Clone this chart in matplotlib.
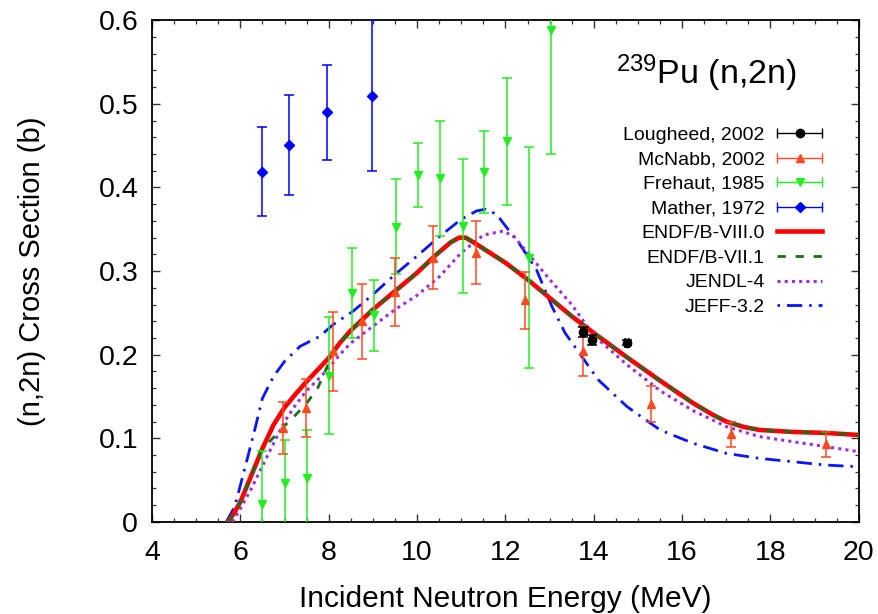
import matplotlib
matplotlib.use("Agg")
import matplotlib.pyplot as plt
from matplotlib.lines import Line2D
from matplotlib.legend_handler import HandlerBase
from matplotlib.ticker import MultipleLocator

plt.rcParams['font.family'] = ['Liberation Sans', 'DejaVu Sans']
plt.rcParams['mathtext.fontset'] = 'custom'
plt.rcParams['mathtext.rm'] = 'Liberation Sans'
plt.rcParams['mathtext.default'] = 'regular'
plt.rcParams['lines.scale_dashes'] = False

# ---------------- data ----------------
loug_E = [13.75, 13.95, 14.75]
loug_s = [0.227, 0.218, 0.214]
loug_err = [0.006, 0.006, 0.003]
loug_xerr = [0.04, 0.04, 0.04]

mcn_E = [6.96, 7.49, 8.1, 8.75, 9.5, 10.36, 11.33, 12.45, 13.76, 15.3, 17.1, 19.25]
mcn_s = [0.112, 0.136, 0.204, 0.240, 0.275, 0.316, 0.322, 0.265, 0.204, 0.141, 0.105, 0.093]
mcn_err = [0.031, 0.035, 0.047, 0.045, 0.041, 0.038, 0.038, 0.034, 0.030, 0.021, 0.015, 0.015]

fre_E = [6.48, 7.0, 7.5, 8.0, 8.53, 9.02, 9.52, 10.03, 10.52, 11.03, 11.52, 12.03, 12.53, 13.04]
fre_s = [0.022, 0.046, 0.052, 0.175, 0.274, 0.247, 0.353, 0.415, 0.411, 0.354, 0.418, 0.455, 0.316, 0.588]
fre_err = [0.063, 0.052, 0.058, 0.070, 0.054, 0.042, 0.057, 0.038, 0.069, 0.080, 0.049, 0.076, 0.132, 0.148]

mat_E = [6.49, 7.09, 7.97, 8.98]
mat_s = [0.419, 0.451, 0.490, 0.510]
mat_err = [0.053, 0.060, 0.057, 0.090]

b8_E = [5.72, 5.85, 6.0, 6.25, 6.5, 6.75, 7.0, 7.25, 7.5, 7.75, 8.0, 8.25, 8.5, 9.0, 9.5,
        10.0, 10.4, 10.75, 10.95, 11.1, 11.35, 12.0, 12.5, 13.0, 13.5, 14.0, 14.75, 15.5,
        16.25, 16.7, 17.0, 17.4, 17.75, 18.5, 19.25, 20.0]
b8_s = [0.0, 0.010, 0.024, 0.056, 0.088, 0.116, 0.137, 0.153, 0.168, 0.182, 0.196, 0.214,
        0.229, 0.254, 0.276, 0.298, 0.318, 0.334, 0.340, 0.340, 0.332, 0.310, 0.290, 0.268,
        0.246, 0.226, 0.197, 0.169, 0.142, 0.128, 0.120, 0.1135, 0.110, 0.1076, 0.1064, 0.104]

b71_E = [5.72, 5.85, 6.0, 6.25, 6.5, 6.75, 7.0, 7.25, 7.5, 7.75, 8.0, 8.15, 8.5, 9.0, 9.5,
         10.0, 10.4, 10.75, 10.95, 11.1, 11.35, 12.0, 12.5, 13.0, 13.5, 14.0, 14.75, 15.5,
         16.25, 16.7, 17.0, 17.4, 17.75, 18.5, 19.25, 20.0]
b71_s = [0.0, 0.010, 0.024, 0.056, 0.087, 0.101, 0.115, 0.128, 0.142, 0.160, 0.190, 0.208,
         0.229, 0.254, 0.276, 0.298, 0.318, 0.334, 0.340, 0.340, 0.332, 0.310, 0.290, 0.268,
         0.246, 0.226, 0.197, 0.169, 0.142, 0.128, 0.120, 0.1135, 0.110, 0.1076, 0.1064, 0.104]

jendl_E = [5.82, 6.0, 6.25, 6.5, 6.75, 7.0, 7.25, 7.5, 7.75, 8.0, 8.25, 8.5, 9.0, 9.5, 10.0,
           10.5, 11.0, 11.5, 11.95, 12.2, 12.5, 13.0, 13.5, 14.0, 14.75, 15.5, 16.25, 17.0,
           17.75, 18.5, 19.25, 20.0]
jendl_s = [0.0, 0.016, 0.040, 0.067, 0.094, 0.120, 0.140, 0.157, 0.170, 0.184, 0.200, 0.214,
           0.234, 0.254, 0.271, 0.293, 0.322, 0.343, 0.348, 0.341, 0.322, 0.290, 0.260, 0.223,
           0.188, 0.157, 0.133, 0.114, 0.102, 0.096, 0.090, 0.084]

jeff_E = [5.68, 5.87, 6.05, 6.3, 6.5, 6.75, 7.0, 7.35, 7.8, 8.1, 8.55, 9.0, 9.5, 10.0, 10.5,
          11.0, 11.35, 11.55, 11.8, 12.0, 12.3, 12.7, 13.05, 13.35, 13.7, 14.1, 14.75, 15.5,
          16.25, 17.0, 17.75, 18.5, 19.25, 20.0]
jeff_s = [0.0, 0.018, 0.054, 0.105, 0.148, 0.174, 0.192, 0.210, 0.222, 0.236, 0.252, 0.272,
          0.296, 0.318, 0.341, 0.362, 0.372, 0.374, 0.368, 0.354, 0.334, 0.302, 0.258, 0.226,
          0.200, 0.170, 0.138, 0.110, 0.094, 0.082, 0.076, 0.072, 0.068, 0.066]

labels = ["Lougheed, 2002", "McNabb, 2002", "Frehaut, 1985", "Mather, 1972",
          "ENDF/B-VIII.0", "ENDF/B-VII.1", "JENDL-4", "JEFF-3.2"]

# ---------------- figure ----------------
fig = plt.figure(figsize=(8.79, 6.14), dpi=100)
ax = fig.add_axes([0.173, 0.150, 0.804, 0.817])

c_loug = 'black'
c_mcn = '#ff4a1f'
c_fre = '#22ee22'
c_mat = '#0000ff'

ax.plot(jeff_E, jeff_s, color='#0a14ff', lw=2.0, dashes=(11, 5, 1.8, 5), zorder=3)
ax.plot(jendl_E, jendl_s, color='#9a2ee0', lw=2.2, dashes=(2.2, 3.0), zorder=3)
ax.plot(b8_E, b8_s, color='#ff0000', lw=3.3, zorder=4)
ax.plot(b71_E, b71_s, color='#1a6e1a', lw=2.0, dashes=(6, 7), zorder=5)

eb_kw = dict(ls='none', capsize=3.5, elinewidth=1.1, capthick=1.1, zorder=6)
ax.errorbar(mat_E, mat_s, yerr=mat_err, color=c_mat, marker='D', ms=5.5, **eb_kw)
ax.errorbar(fre_E, fre_s, yerr=fre_err, color=c_fre, marker='v', ms=6, **eb_kw)
ax.errorbar(mcn_E, mcn_s, yerr=mcn_err, color=c_mcn, marker='^', ms=6, **eb_kw)
ax.errorbar(loug_E, loug_s, yerr=loug_err, xerr=loug_xerr, color=c_loug, marker='o', ms=6, **eb_kw)

ax.set_xlim(4, 20)
ax.set_ylim(0, 0.6)
ax.xaxis.set_major_locator(MultipleLocator(2))
ax.xaxis.set_minor_locator(MultipleLocator(0.5))
ax.yaxis.set_minor_locator(MultipleLocator(0.02))
ax.set_yticks([0, 0.1, 0.2, 0.3, 0.4, 0.5, 0.6])
ax.set_yticklabels(['0', '0.1', '0.2', '0.3', '0.4', '0.5', '0.6'])
ax.tick_params(which='both', direction='in', top=True, right=True, color='#333333')
ax.tick_params(which='major', length=6, width=1.0, labelsize=20.5)
ax.tick_params(which='minor', length=3, width=0.9)
ax.tick_params(axis='x', which='major', pad=13)
ax.tick_params(axis='y', which='major', pad=10)
for sp in ax.spines.values():
    sp.set_linewidth(1.3)

ax.set_xlabel("Incident Neutron Energy (MeV)", fontsize=21.5, labelpad=14)
ax.set_ylabel("(n,2n) Cross Section (b)", fontsize=21, labelpad=38)

ax.text(0.785, 0.894, r"$^{239}$Pu (n,2n)", transform=ax.transAxes,
        fontsize=24.5, ha='center', va='center')

# ---------------- legend ----------------
class ErrProxy:
    def __init__(self, color, marker, ms):
        self.color = color
        self.marker = marker
        self.ms = ms

class HandlerErr(HandlerBase):
    def create_artists(self, legend, orig_handle, xdescent, ydescent, width, height,
                       fontsize, trans):
        y = height / 2.0 - ydescent
        x0, x1 = -xdescent, width - xdescent
        line = Line2D([x0, x1], [y, y], color=orig_handle.color, lw=1.0)
        caps = Line2D([x0, x1], [y, y], ls='none', marker='|', ms=7, mew=1.0,
                      color=orig_handle.color)
        mk = Line2D([(x0 + x1) / 2.0], [y], ls='none', marker=orig_handle.marker,
                    ms=orig_handle.ms, color=orig_handle.color)
        for a in (line, caps, mk):
            a.set_transform(trans)
        return [line, caps, mk]

handles = [
    ErrProxy(c_loug, 'o', 6),
    ErrProxy(c_mcn, '^', 6),
    ErrProxy(c_fre, 'v', 6),
    ErrProxy(c_mat, 'D', 5),
    Line2D([], [], color='#ff0000', lw=3.3),
    Line2D([], [], color='#1a6e1a', lw=2.0, dashes=(6, 7)),
    Line2D([], [], color='#9a2ee0', lw=2.2, dashes=(2.2, 3.0)),
    Line2D([], [], color='#0a14ff', lw=2.0, dashes=(1.8, 5, 11, 5)),
]
ax.legend(handles, labels, handler_map={ErrProxy: HandlerErr()},
          loc='upper right', bbox_to_anchor=(0.948, 0.789), frameon=False,
          markerfirst=False, fontsize=14, handlelength=2.3, handletextpad=0.65,
          labelspacing=0.36, borderpad=0, borderaxespad=0)

fig.savefig("out.png", dpi=100)
